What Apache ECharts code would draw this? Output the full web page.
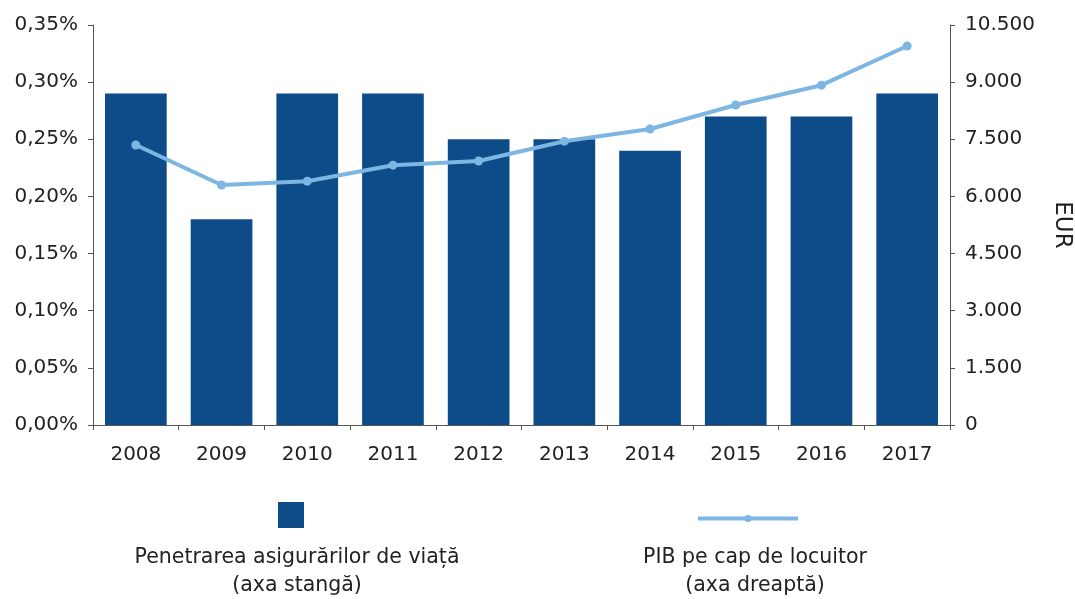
<!DOCTYPE html>
<html>
<head>
<meta charset="utf-8">
<title>ECharts</title>
<script src="https://cdn.jsdelivr.net/npm/echarts@6/dist/echarts.min.js"></script>
</head>
<body style="margin:0;padding:0;">
<div id="main" style="width:1075px;height:599px;"></div>
<script type="text/javascript">
var years = ['2008', '2009', '2010', '2011', '2012', '2013', '2014', '2015', '2016', '2017'];
var penetrare = [0.29, 0.18, 0.29, 0.29, 0.25, 0.25, 0.24, 0.27, 0.27, 0.29];
var pibCap = [7350, 6300, 6400, 6820, 6930, 7450, 7770, 8400, 8920, 9950];
var barName = 'Penetrarea asigurărilor de viață';
var lineName = 'PIB pe cap de locuitor';

var font = 'DejaVu Sans';
var txt = '#222';
var axisCol = '#555';
var barCol = '#0e4c89';
var lineCol = '#7db6e2';

var myChart = echarts.init(document.getElementById('main'));

function thousands(v) {
    return String(v).replace(/\B(?=(\d{3})+(?!\d))/g, '.');
}

var option = {
    animation: false,
    textStyle: { fontFamily: font },
    grid: { left: 93, right: 125, top: 25, bottom: 174, containLabel: false, outerBoundsMode: 'none' },
    legend: [{
        data: [{ name: barName, icon: 'rect' }],
        left: 273, top: 497,
        itemWidth: 26, itemHeight: 26,
        formatter: function () { return ''; },
        textStyle: { fontSize: 1 },
        itemGap: 0
    }, {
        data: [lineName],
        left: 691, top: 509,
        itemWidth: 100, itemHeight: 9,
        lineStyle: { width: 4 },
        formatter: function () { return ''; },
        textStyle: { fontSize: 1 },
        itemGap: 0
    }],
    xAxis: {
        type: 'category',
        data: years,
        axisLine: { lineStyle: { color: axisCol, width: 1 } },
        axisTick: { show: true, length: 5, lineStyle: { color: axisCol } },
        axisLabel: { color: txt, fontSize: 20, margin: 20, fontFamily: font }
    },
    yAxis: [{
        type: 'value',
        min: 0, max: 0.35, interval: 0.05,
        splitLine: { show: false },
        axisLine: { show: true, lineStyle: { color: axisCol } },
        axisTick: { show: true, length: 5, lineStyle: { color: axisCol } },
        axisLabel: {
            color: txt, fontSize: 20, margin: 15, fontFamily: font,
            formatter: function (v) { return v.toFixed(2).replace('.', ',') + '%'; }
        }
    }, {
        type: 'value',
        min: 0, max: 10500, interval: 1500,
        position: 'right',
        splitLine: { show: false },
        name: 'EUR',
        nameLocation: 'middle',
        nameRotate: -90,
        nameGap: 100,
        nameTextStyle: { color: txt, fontSize: 23, fontFamily: font },
        axisLine: { show: true, lineStyle: { color: axisCol } },
        axisTick: { show: true, length: 5, lineStyle: { color: axisCol } },
        axisLabel: {
            color: txt, fontSize: 20, margin: 15, fontFamily: font,
            formatter: function (v) { return thousands(v); }
        }
    }],
    series: [{
        name: barName,
        type: 'bar',
        data: penetrare,
        yAxisIndex: 0,
        barCategoryGap: '28%',
        itemStyle: { color: barCol }
    }, {
        name: lineName,
        type: 'line',
        data: pibCap,
        yAxisIndex: 1,
        symbol: 'circle',
        symbolSize: 9,
        lineStyle: { color: lineCol, width: 4 },
        itemStyle: { color: lineCol }
    }],
    graphic: [{
        type: 'text',
        x: 297, y: 572,
        style: {
            text: barName + '\n(axa stangă)',
            fontSize: 20.5, fontFamily: font, fill: txt,
            align: 'center', verticalAlign: 'middle', lineHeight: 28
        }
    }, {
        type: 'text',
        x: 755, y: 572,
        style: {
            text: lineName + '\n(axa dreaptă)',
            fontSize: 20.5, fontFamily: font, fill: txt,
            align: 'center', verticalAlign: 'middle', lineHeight: 28
        }
    }]
};
myChart.setOption(option);
</script>
</body>
</html>
